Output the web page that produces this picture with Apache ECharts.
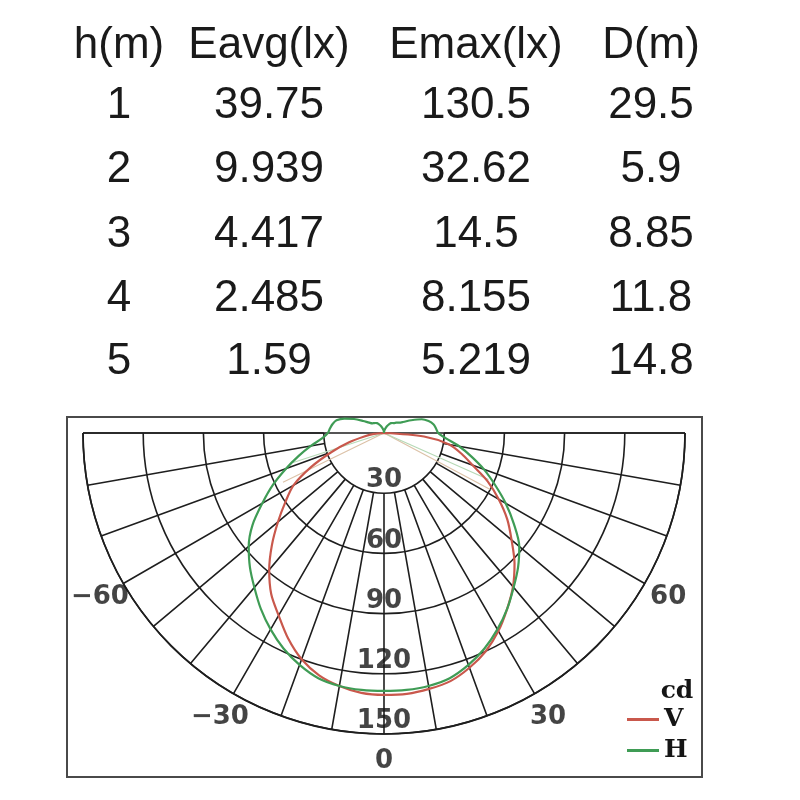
<!DOCTYPE html>
<html><head><meta charset="utf-8">
<script src="https://cdn.jsdelivr.net/npm/echarts@6/dist/echarts.min.js"></script>
<style>html,body{margin:0;padding:0;background:#fff}#c{width:800px;height:800px}</style>
</head><body><div id="c"></div>
<script>
// ---- table data ----
const tableHeaders = ['h(m)', 'Eavg(lx)', 'Emax(lx)', 'D(m)'];
const heights = ['1', '2', '3', '4', '5'];
const eavg = ['39.75', '9.939', '4.417', '2.485', '1.59'];
const emax = ['130.5', '32.62', '14.5', '8.155', '5.219'];
const diam = ['29.5', '5.9', '8.85', '11.8', '14.8'];

// ---- polar curve data (cd) ----
const vAngles = [-90,-85,-80,-75,-70,-65,-60,-55,-50,-45,-40,-35,-30,-25,-20,-15,-10,-5,0,5,10,15,20,25,30,35,40,45,50,55,60,65,70,75,80,85,90];
const vValues = [0,5,10,18,28,40,52,60,69,79,89,98,105,113,120,125,128,130,130.5,130.5,129.5,128,124.5,120,114,107,100,92,83,75,66,57,47,40,33,20,0];

const hAngles = [-180,-175,-170,-165,-160,-155,-150,-145,-140,-135,-130,-125,-120,-115,-110,-105,-100,-95,-90,-85,-80,-75,-70,-65,-60,-55,-50,-45,-40,-35,-30,-25,-20,-15,-10,-5,0,5,10,15,20,25,30,35,40,45,50,55,60,65,70,75,80,85,90,95,100,105,110,115,120,125,130,135,140,145,150,155,160,165,170,175,180];
const hValues = [0,0.8,1.5,2,3,4,5,6,6.5,7,7.5,9,12,16.5,21,24.5,26,27,28,31,37,44,52,61,70,80,88,94.5,100.5,107,113,118.5,123,126.5,128,128.5,128.5,128.5,128,126.5,123,118.5,113,107,100.5,94.5,88,79,70,61,53,45,38,31,27,26,25,23,20,15,11,9,8,7,6.5,6,5,4,3,2,1.5,0.8,0];

const faintTanR = [56, 0, 60];
const faintTanA = [-64, 0, 62];
const faintGreenR = [48, 0, 57];
const faintGreenA = [-72, 0, 66];

const radiusTicks = [30, 60, 90, 120, 150];
const angleTicks = [-60, -30, 0, 30, 60];
const legendNames = ['V', 'H'];
const unitLabel = 'cd';

// ---- layout ----
const C = [384, 433], R = 301, RMAX = 150;
const ANGLE_LABEL_R = RMAX * 1.09;
const colX = [119, 269, 476, 651];
const rowY = [46, 106, 170, 235, 299, 362];
const gridColor = '#1e1e1e';
const red = '#c9584c', green = '#3f9c55';
const labelFont = {fontFamily: 'DejaVu Sans', fontWeight: 'bold', fontSize: 26, color: '#151515'};

const graphics = [];
const cols = [heights, eavg, emax, diam];
tableHeaders.forEach((h, c) => {
  graphics.push({type: 'text', x: colX[c], y: rowY[0], style: {text: h, fill: '#1a1a1a', font: '44px "Liberation Sans", Arial, sans-serif', align: 'center', verticalAlign: 'middle'}});
  cols[c].forEach((t, r) => {
    graphics.push({type: 'text', x: colX[c], y: rowY[r + 1], style: {text: t, fill: '#1a1a1a', font: '44px "Liberation Sans", Arial, sans-serif', align: 'center', verticalAlign: 'middle'}});
  });
});
graphics.push({type: 'rect', shape: {x: 67, y: 417, width: 635, height: 360}, style: {fill: 'none', stroke: '#4a4a4a', lineWidth: 2}, z: 1});
graphics.push({type: 'text', x: 677, y: 691, style: {text: unitLabel, fill: '#151515', font: 'bold 25px "DejaVu Serif", serif', align: 'center', verticalAlign: 'middle'}});

const fmtAngle = a => a < 0 ? '\u2212' + Math.abs(a) : String(a);
const hiddenAngle = {axisLine: {show: false}, axisTick: {show: false}, axisLabel: {show: false}, splitLine: {show: false}};

const chart = echarts.init(document.getElementById('c'));
chart.setOption({
  animation: false,
  backgroundColor: '#fff',
  polar: [
    {center: C, radius: [R * 30 / RMAX, R]},
    {center: C, radius: [0, R]},
    {center: C, radius: [0, R]}
  ],
  angleAxis: [
    {polarIndex: 0, type: 'value', min: -90, max: 90, interval: 10, startAngle: 180, endAngle: 360, clockwise: false,
     axisLine: {show: false}, axisTick: {show: false}, axisLabel: {show: false},
     splitLine: {show: true, lineStyle: {color: gridColor, width: 1.6}}},
    {polarIndex: 1, type: 'value', min: -90, max: 90, interval: 180, startAngle: 180, endAngle: 360, clockwise: false,
     axisLine: {show: true, lineStyle: {color: gridColor, width: 1.7}}, axisTick: {show: false}, axisLabel: {show: false},
     splitLine: {show: true, lineStyle: {color: gridColor, width: 1.6}}},
    Object.assign({polarIndex: 2, type: 'value', min: -180, max: 180, startAngle: 90, endAngle: 450, clockwise: false}, hiddenAngle)
  ],
  radiusAxis: [
    Object.assign({polarIndex: 0, type: 'value', min: 0, max: RMAX}, hiddenAngle),
    {polarIndex: 1, type: 'value', min: 0, max: RMAX, interval: 30, axisLine: {show: false}, axisTick: {show: false}, axisLabel: {show: false},
     splitLine: {show: true, lineStyle: {color: gridColor, width: 1.6}}},
    Object.assign({polarIndex: 2, type: 'value', min: 0, max: RMAX}, hiddenAngle)
  ],
  legend: {
    data: legendNames, orient: 'vertical', left: 627, top: 707, icon: 'rect', itemWidth: 32, itemHeight: 3, itemGap: 6, padding: 0,
    selectedMode: false, textStyle: {fontFamily: 'DejaVu Serif', fontWeight: 'bold', fontSize: 25, color: '#151515'}
  },
  graphic: graphics,
  series: [
    {type: 'line', name: 'faint1', coordinateSystem: 'polar', polarIndex: 2, symbol: 'none', clip: false, silent: true,
     data: faintTanR.map((r, i) => [r, faintTanA[i]]), lineStyle: {color: '#dcc2a8', width: 1.2}, z: 3},
    {type: 'line', name: 'faint2', coordinateSystem: 'polar', polarIndex: 2, symbol: 'none', clip: false, silent: true,
     data: faintGreenR.map((r, i) => [r, faintGreenA[i]]), lineStyle: {color: '#b6d9b6', width: 1.2}, z: 3},
    {type: 'line', name: 'V', coordinateSystem: 'polar', polarIndex: 2, symbol: 'none', smooth: 0.3, clip: false,
     data: vAngles.map((a, i) => [vValues[i], a]), lineStyle: {color: red, width: 2.2}, itemStyle: {color: red}, z: 5},
    {type: 'line', name: 'H', coordinateSystem: 'polar', polarIndex: 2, symbol: 'none', smooth: 0.3, clip: false,
     data: hAngles.map((a, i) => [hValues[i], a]), lineStyle: {color: green, width: 2.2}, itemStyle: {color: green}, z: 6},
    {type: 'scatter', name: 'rlabels', coordinateSystem: 'polar', polarIndex: 1, symbolSize: 1, clip: false, silent: true,
     itemStyle: {color: 'transparent'}, data: radiusTicks.map(v => [v, 0]),
     label: Object.assign({show: true, position: 'top', distance: -1, formatter: p => String(p.value[0])}, labelFont), z: 7},
    {type: 'scatter', name: 'alabels', coordinateSystem: 'polar', polarIndex: 1, symbolSize: 1, clip: false, silent: true,
     itemStyle: {color: 'transparent'}, data: angleTicks.map(a => [ANGLE_LABEL_R, a]),
     label: Object.assign({show: true, position: 'inside', formatter: p => fmtAngle(p.value[1])}, labelFont), z: 7}
  ]
});
</script></body></html>
